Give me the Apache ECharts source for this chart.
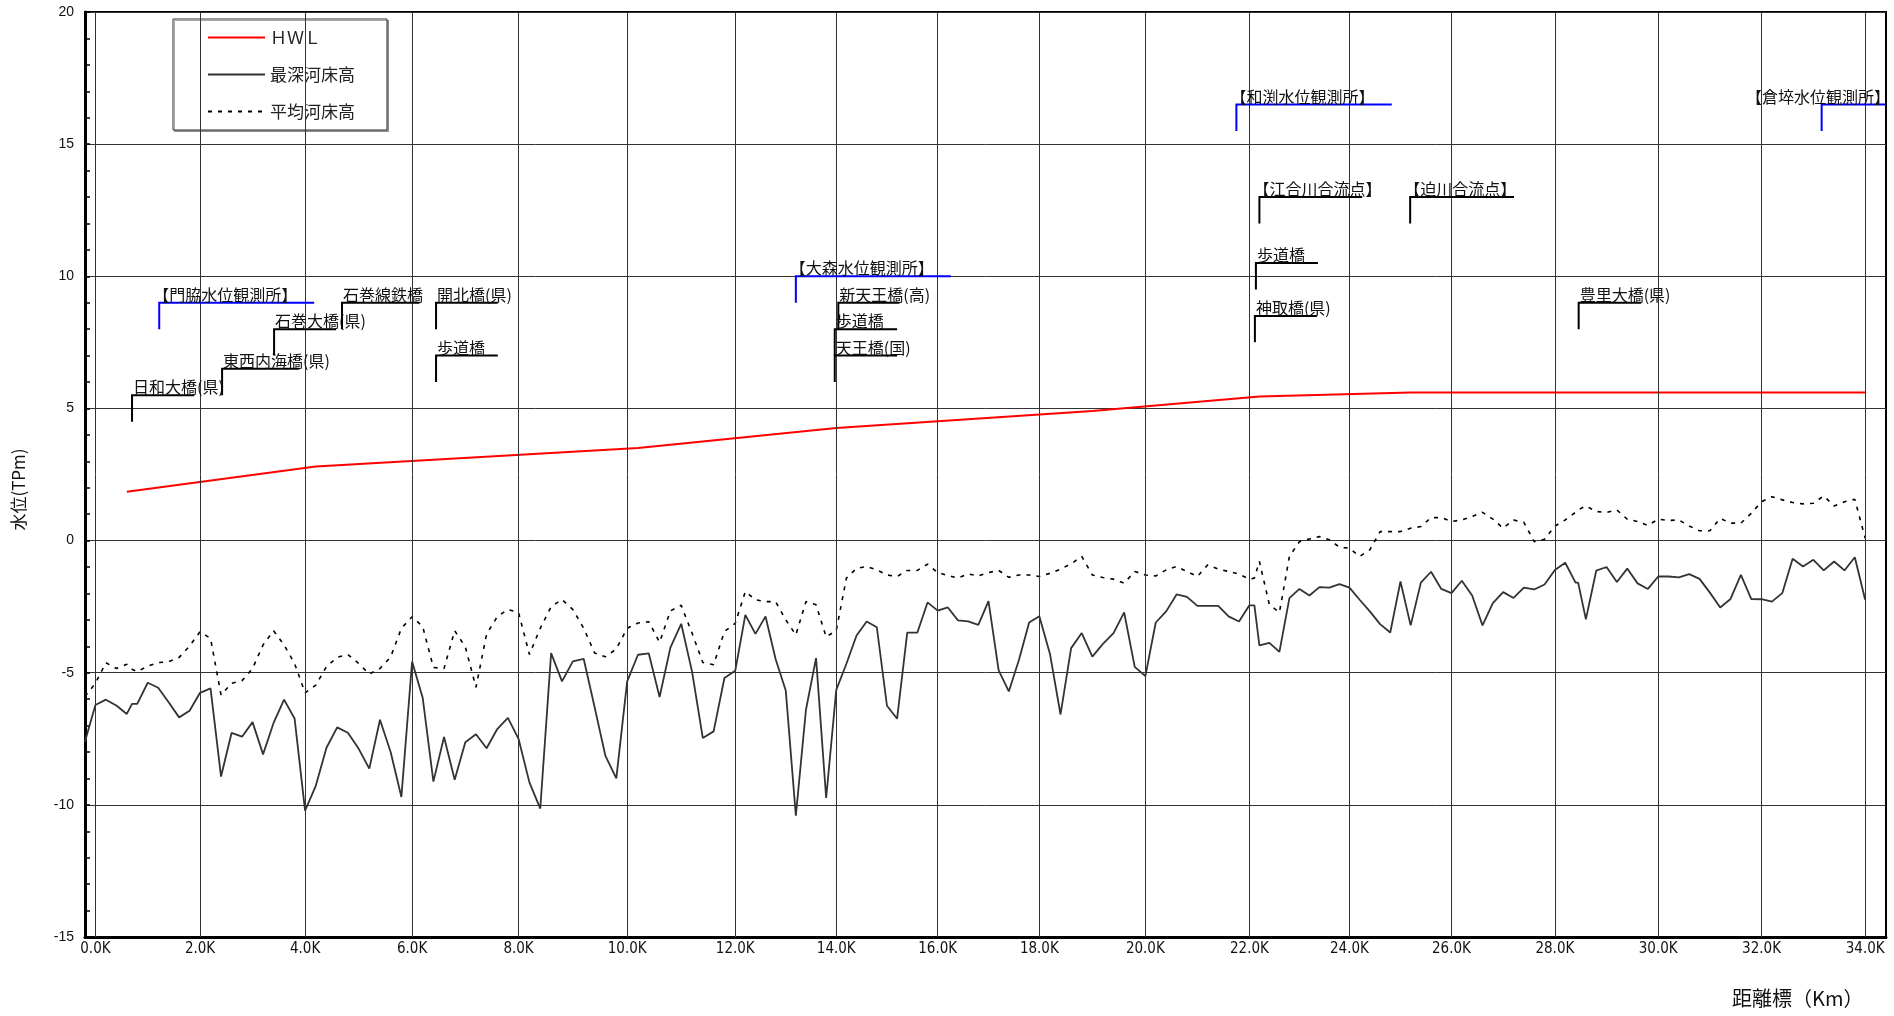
<!DOCTYPE html>
<html><head><meta charset="utf-8">
<script src="https://cdn.jsdelivr.net/npm/echarts@6/dist/echarts.min.js"></script>
<style>html,body{margin:0;padding:0;background:#fff}#c{width:1894px;height:1016px}</style>
</head><body><div id="c"></div>
<script>
// distance-marker names (K) and their surveyed positions along the river (km)
const markerKm   = [0,2,4,6,8,10,12,14,16,18,20,22,24,26,28,30,32,34];
const markerReal = [0,2.010,4.028,6.084,8.129,10.216,12.292,14.233,16.181,18.134,20.171,22.170,24.092,26.052,28.039,30.024,32.009,34.000];

// cross sections (distance-marker km)
const sectionKm = [-0.2,0,0.2,0.4,0.6,0.7,0.8,1.0,1.2,1.4,1.6,1.8,2.0,2.2,2.4,2.6,2.8,3.0,3.2,3.4,3.6,3.8,4.0,4.2,4.4,4.6,4.8,5.0,5.2,5.4,5.6,5.8,6.0,6.2,6.4,6.6,6.8,7.0,7.2,7.4,7.6,7.8,8.0,8.2,8.4,8.6,8.8,9.0,9.2,9.4,9.6,9.8,10.0,10.2,10.4,10.6,10.8,11.0,11.2,11.4,11.6,11.8,12.0,12.2,12.4,12.6,12.8,13.0,13.2,13.4,13.6,13.8,14.0,14.2,14.4,14.6,14.8,15.0,15.2,15.4,15.6,15.8,16.0,16.2,16.4,16.6,16.8,17.0,17.2,17.4,17.6,17.8,18.0,18.2,18.4,18.6,18.8,19.0,19.2,19.4,19.6,19.8,20.0,20.2,20.4,20.6,20.8,21.0,21.2,21.4,21.6,21.8,22.0,22.1,22.2,22.4,22.6,22.8,23.0,23.2,23.4,23.6,23.8,24.0,24.2,24.4,24.6,24.8,25.0,25.2,25.4,25.6,25.8,26.0,26.2,26.4,26.6,26.8,27.0,27.2,27.4,27.6,27.8,28.0,28.2,28.4,28.45,28.6,28.8,29.0,29.2,29.4,29.6,29.8,30.0,30.2,30.4,30.6,30.8,31.0,31.2,31.4,31.6,31.8,32.0,32.2,32.4,32.6,32.8,33.0,33.2,33.4,33.6,33.8,34.0];

// 最深河床高 (TPm)
const deepBed = [-7.61,-6.22,-6.02,-6.24,-6.56,-6.18,-6.18,-5.38,-5.57,-6.12,-6.69,-6.44,-5.76,-5.59,-8.93,-7.28,-7.42,-6.87,-8.09,-6.90,-6.02,-6.73,-10.22,-9.28,-7.84,-7.07,-7.27,-7.87,-8.63,-6.78,-8.01,-9.70,-4.58,-5.96,-9.12,-7.43,-9.05,-7.63,-7.33,-7.86,-7.13,-6.71,-7.50,-9.15,-10.14,-4.26,-5.33,-4.57,-4.48,-6.30,-8.15,-9.00,-5.33,-4.32,-4.27,-5.92,-4.05,-3.15,-4.95,-7.47,-7.22,-5.20,-4.93,-2.81,-3.53,-2.87,-4.49,-5.67,-10.41,-6.40,-4.45,-9.74,-5.65,-4.66,-3.59,-3.06,-3.28,-6.25,-6.74,-3.48,-3.48,-2.34,-2.65,-2.53,-3.02,-3.06,-3.19,-2.29,-4.91,-5.71,-4.51,-3.10,-2.86,-4.28,-6.58,-4.07,-3.50,-4.39,-3.91,-3.50,-2.72,-4.78,-5.13,-3.10,-2.68,-2.04,-2.13,-2.47,-2.47,-2.47,-2.87,-3.06,-2.45,-2.45,-3.97,-3.87,-4.21,-2.18,-1.83,-2.08,-1.76,-1.78,-1.65,-1.78,-2.24,-2.68,-3.16,-3.48,-1.55,-3.21,-1.59,-1.18,-1.83,-1.99,-1.52,-2.08,-3.21,-2.37,-1.95,-2.17,-1.78,-1.85,-1.66,-1.11,-0.84,-1.59,-1.59,-2.98,-1.14,-1.00,-1.57,-1.06,-1.62,-1.83,-1.36,-1.36,-1.39,-1.27,-1.45,-1.97,-2.53,-2.21,-1.30,-2.21,-2.22,-2.31,-1.99,-0.69,-0.98,-0.73,-1.13,-0.79,-1.13,-0.63,-2.24];

// 平均河床高 (TPm)
const meanBed = [-5.90,-5.40,-4.62,-4.84,-4.68,-4.87,-4.96,-4.75,-4.62,-4.58,-4.42,-3.99,-3.45,-3.70,-5.84,-5.40,-5.30,-4.84,-3.95,-3.41,-3.95,-4.65,-5.76,-5.47,-4.77,-4.42,-4.31,-4.65,-5.05,-4.84,-4.40,-3.32,-2.88,-3.26,-4.80,-4.84,-3.41,-4.02,-5.55,-3.54,-2.88,-2.61,-2.72,-4.31,-3.32,-2.50,-2.23,-2.61,-3.32,-4.25,-4.40,-4.10,-3.32,-3.12,-3.07,-3.85,-2.66,-2.45,-3.50,-4.61,-4.70,-3.44,-3.13,-1.93,-2.24,-2.31,-2.31,-3.00,-3.57,-2.31,-2.43,-3.65,-3.40,-1.42,-1.05,-0.98,-1.11,-1.30,-1.36,-1.13,-1.13,-0.89,-1.21,-1.32,-1.42,-1.26,-1.34,-1.21,-1.13,-1.39,-1.30,-1.30,-1.36,-1.24,-1.08,-0.88,-0.60,-1.30,-1.40,-1.46,-1.61,-1.17,-1.30,-1.34,-1.11,-0.98,-1.17,-1.36,-0.92,-1.08,-1.17,-1.27,-1.46,-1.42,-0.79,-2.43,-2.72,-0.60,-0.04,0.06,0.15,0.03,-0.25,-0.29,-0.60,-0.35,0.34,0.34,0.34,0.47,0.53,0.87,0.87,0.72,0.78,0.91,1.07,0.81,0.47,0.78,0.69,-0.04,0.05,0.55,0.78,1.07,1.16,1.31,1.10,1.06,1.16,0.81,0.72,0.57,0.81,0.76,0.78,0.55,0.37,0.37,0.84,0.66,0.66,1.03,1.47,1.66,1.54,1.44,1.39,1.41,1.69,1.31,1.47,1.56,0.09];

// HWL (TPm)
const hwlKm    = [0.6, 4.2, 10.2, 14.0, 19.0, 22.2, 25.2, 34.0];
const hwlLevel = [1.85, 2.80, 3.50, 4.26, 4.90, 5.45, 5.60, 5.60];

// point labels (bridges / gauging stations / confluences)
const annoNames   = ['日和大橋(県)','東西内海橋(県)','石巻大橋(県)','石巻線鉄橋','【門脇水位観測所】','開北橋(県)','歩道橋','【大森水位観測所】','新天王橋(高)','歩道橋','天王橋(国)','【和渕水位観測所】','【倉埣水位観測所】','【江合川合流点】','【迫川合流点】','歩道橋','神取橋(県)','豊里大橋(県)'];
const annoKm      = [0.7, 2.42, 3.41, 4.69, 1.22, 6.45, 6.45, 13.2, 14.04, 13.97, 13.97, 21.75, 33.16, 22.2, 25.19, 22.13, 22.11, 28.46];
const annoEndKm   = [1.89, 3.89, 4.58, 6.14, 4.17, 7.61, 7.61, 16.26, 15.25, 15.2, 15.2, 24.83, 34.4, 24.25, 27.21, 23.37, 23.35, 29.67];
const annoLevel   = [5.5, 6.5, 8.0, 9.0, 9.0, 9.0, 7.0, 10.0, 9.0, 8.0, 7.0, 16.5, 16.5, 13.0, 13.0, 10.5, 8.5, 9.0];
const annoStation = [0,0,0,0,1,0,0,1,0,0,0,1,1,0,0,0,0,0];
const annoAlign   = ['left','left','left','left','left','left','left','left','left','left','left','left','right','left','left','left','left','left'];

function toReal(k){
  let i = 0;
  while (i < markerKm.length - 2 && k > markerKm[i+1]) i++;
  const t = (k - markerKm[i]) / (markerKm[i+1] - markerKm[i]);
  return markerReal[i] + t * (markerReal[i+1] - markerReal[i]);
}
function markerLabel(v){
  let best = 0;
  for (let i = 1; i < markerReal.length; i++) if (Math.abs(markerReal[i]-v) < Math.abs(markerReal[best]-v)) best = i;
  return markerKm[best].toFixed(1) + 'K';
}

const chart = echarts.init(document.getElementById('c'), null, {renderer:'canvas'});
const JP = '"Noto Sans CJK JP", sans-serif';

chart.setOption({
  animation: false,
  backgroundColor: '#fff',
  grid: {left: 85, right: 8, top: 12, bottom: 79, show: true, borderColor: '#000', borderWidth: 2, backgroundColor: 'transparent'},
  legend: {
    orient: 'vertical', left: 173, top: 19,
    data: ['ＨＷＬ','最深河床高','平均河床高'],
    itemWidth: 57, itemHeight: 17, itemGap: 20,
    padding: [10, 32, 10, 34],
    backgroundColor: '#fff', borderColor: '#333', borderWidth: 1,
    shadowColor: 'rgba(0,0,0,0.35)', shadowOffsetX: 1.5, shadowOffsetY: 1.5, shadowBlur: 0,
    itemStyle: {color: 'transparent', borderColor: 'transparent', borderWidth: 0, opacity: 0},
    textStyle: {fontFamily: JP, fontSize: 17, color: '#222'}
  },
  xAxis: {
    type: 'value', min: -0.2, max: 34.4,
    axisLine: {onZero: false, lineStyle: {color: '#000', width: 3}},
    axisTick: {show: false, customValues: markerReal},
    axisLabel: {customValues: markerReal, formatter: markerLabel, fontFamily: '"DejaVu Sans Condensed", "Liberation Sans Narrow", "Noto Sans", sans-serif', fontSize: 15, color: '#111', margin: 5},
    splitLine: {show: false}
  },
  yAxis: {
    type: 'value', min: -15, max: 20, interval: 5,
    name: '水位(TPm)', nameLocation: 'middle', nameGap: 58, nameRotate: 90,
    nameTextStyle: {fontFamily: JP, fontSize: 17, color: '#111', padding: [0, 0, 0, -30]},
    axisLine: {show: true, onZero: false, lineStyle: {color: '#000', width: 3}},
    axisTick: {show: true, inside: true, length: 5, lineStyle: {color: '#000', width: 1.5}},
    minorTick: {show: true, splitNumber: 5, length: 5, lineStyle: {color: '#000', width: 1.5}},
    axisLabel: {fontFamily: '"Liberation Sans", Arial, sans-serif', fontSize: 14, color: '#111', margin: 11},
    splitLine: {show: true, lineStyle: {color: '#333', width: 1}}
  },
  graphic: [{type: 'text', left: 1732, top: 988, style: {text: '距離標（Km）', fontFamily: JP, fontSize: 20, fill: '#111'}}],
  series: [
    {
      name: 'grid', type: 'line', data: [], silent: true, z: 1,
      markLine: {silent: true, symbol: 'none', label: {show: false},
        lineStyle: {color: '#333', width: 1, type: 'solid'},
        data: markerReal.map(v => ({xAxis: v}))}
    },
    {
      name: 'ＨＷＬ', type: 'line', symbol: 'none', z: 4,
      lineStyle: {color: '#ff0000', width: 2}, itemStyle: {color: '#ff0000'},
      data: hwlKm.map((k, i) => [toReal(k), hwlLevel[i]])
    },
    {
      name: '最深河床高', type: 'line', symbol: 'none', z: 3,
      lineStyle: {color: '#333', width: 1.8}, itemStyle: {color: '#333'},
      data: sectionKm.map((k, i) => [toReal(k), deepBed[i]])
    },
    {
      name: '平均河床高', type: 'line', symbol: 'none', z: 3,
      lineStyle: {color: '#000', width: 1.6, type: [4, 6]}, itemStyle: {color: '#000'},
      data: sectionKm.map((k, i) => [toReal(k), meanBed[i]])
    },
    {
      name: 'labels', type: 'custom', coordinateSystem: 'cartesian2d', silent: true, z: 5,
      data: annoNames.map((n, i) => [toReal(annoKm[i]), toReal(annoEndKm[i]), annoLevel[i], annoLevel[i] - 1, i]),
      encode: {x: [0, 1], y: [2, 3]},
      renderItem: function (params, api) {
        const i = api.value(4);
        const p0 = api.coord([api.value(0), api.value(2)]);
        const p1 = api.coord([api.value(1), api.value(2)]);
        const p2 = api.coord([api.value(0), api.value(3)]);
        const color = annoStation[i] ? '#0000ff' : '#000';
        const right = annoAlign[i] === 'right';
        const bracket = annoNames[i].charAt(0) === '【';
        return {type: 'group', children: [
          {type: 'polyline', shape: {points: [p1, p0, p2]}, style: {stroke: color, lineWidth: 2, fill: null}},
          {type: 'text', x: right ? p1[0] + 4 : p0[0] + (bracket ? -6 : 1), y: p0[1],
           style: {text: annoNames[i], fontFamily: JP, fontSize: 16, fill: '#111', align: right ? 'right' : 'left', verticalAlign: 'bottom'}}
        ]};
      }
    }
  ]
});
</script></body></html>
